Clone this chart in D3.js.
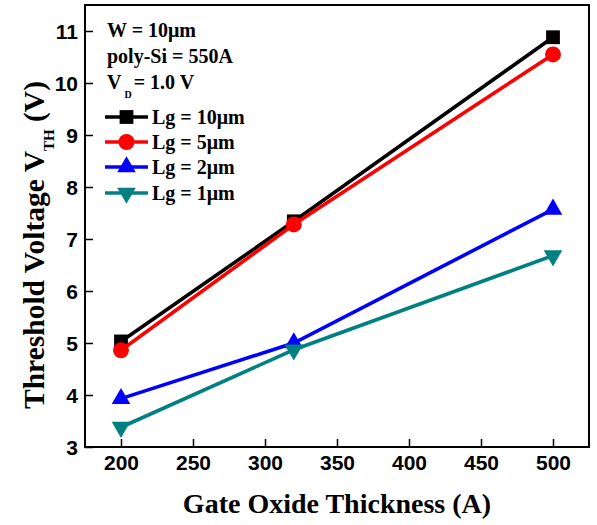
<!DOCTYPE html>
<html>
<head>
<meta charset="utf-8">
<script src="https://cdn.jsdelivr.net/npm/d3@7"></script>
<style>
  html, body { margin: 0; padding: 0; background: #fff; }
  svg { display: block; }
</style>
</head>
<body>
<svg id="chart" width="597" height="525"></svg>
<script>
// Gate oxide thickness (A) and threshold voltage (V) per gate length
const thickness = [200, 320, 500];
const vthLg10 = [5.03, 7.34, 10.88];
const vthLg5 = [4.86, 7.28, 10.55];
const vthLg2 = [3.93, 5.0, 7.57];
const vthLg1 = [3.38, 4.87, 6.68];

const seriesNames = ["Lg = 10\u03bcm", "Lg = 5\u03bcm", "Lg = 2\u03bcm", "Lg = 1\u03bcm"];
const seriesColors = ["#000000", "#ff0000", "#0000ff", "#008080"];
const seriesSymbols = [d3.symbolSquare, d3.symbolCircle, d3.symbolTriangle, d3.symbolTriangle];
const seriesValues = [vthLg10, vthLg5, vthLg2, vthLg1];

const xTicks = [200, 250, 300, 350, 400, 450, 500];
const yTicks = [3, 4, 5, 6, 7, 8, 9, 10, 11];

const svg = d3.select("#chart");
const m = { left: 85, right: 589, top: 5, bottom: 447 };

const x = d3.scaleLinear().domain([175, 525]).range([m.left, m.right]);
const y = d3.scaleLinear().domain([3, 11.5]).range([m.bottom, m.top]);

// axes with inward ticks
const xAxis = d3.axisBottom(x).tickValues(xTicks).tickSize(-8).tickPadding(8).tickFormat(d3.format("d"));
const yAxis = d3.axisLeft(y).tickValues(yTicks).tickSize(-8).tickPadding(7).tickFormat(d3.format("d"));

const gx = svg.append("g").attr("transform", `translate(0,${m.bottom})`).call(xAxis);
const gy = svg.append("g").attr("transform", `translate(${m.left},0)`).call(yAxis);
[gx, gy].forEach(g => {
  g.select(".domain").remove();
  g.selectAll(".tick line").attr("stroke", "#000").attr("stroke-width", 1.5);
  g.selectAll(".tick text")
    .attr("fill", "#000")
    .style("font-family", "'Liberation Sans', Arial, sans-serif")
    .style("font-weight", "bold")
    .style("font-size", "21px");
});
gx.selectAll(".tick text").attr("dy", "0.71em");
gy.selectAll(".tick text").attr("dy", "0.36em");

// frame
svg.append("rect")
  .attr("x", m.left).attr("y", m.top)
  .attr("width", m.right - m.left).attr("height", m.bottom - m.top)
  .attr("fill", "none").attr("stroke", "#000").attr("stroke-width", 2);

// series
const line = d3.line().x((d, i) => x(thickness[i])).y(d => y(d));
const symbolSizes = [190, 200, 150, 150];
function drawMarker(g, k, cx, cy) {
  const sym = d3.symbol().type(seriesSymbols[k]).size(symbolSizes[k]);
  g.append("path")
    .attr("d", sym())
    .attr("fill", seriesColors[k])
    .attr("transform", `translate(${cx},${cy})${k === 3 ? " rotate(180)" : ""}`);
}
seriesValues.forEach((vals, k) => {
  const g = svg.append("g");
  g.append("path")
    .datum(vals)
    .attr("d", line)
    .attr("fill", "none")
    .attr("stroke", seriesColors[k])
    .attr("stroke-width", 3.6);
  vals.forEach((v, i) => drawMarker(g, k, x(thickness[i]), y(v)));
});

// annotation text
const serif = "'Liberation Serif', 'Times New Roman', serif";
const ann = svg.append("g")
  .style("font-family", serif)
  .style("font-weight", "bold")
  .style("font-size", "20px");
ann.append("text").attr("x", 107).attr("y", 37).text("W = 10\u03bcm");
ann.append("text").attr("x", 107).attr("y", 63).text("poly-Si = 550A");
const vd = ann.append("text").attr("x", 107).attr("y", 89);
vd.append("tspan").text("V");
vd.append("tspan").attr("dx", 3).attr("dy", 9).style("font-size", "10px").text("D");
vd.append("tspan").attr("dx", 2).attr("dy", -9).text("= 1.0 V");

// legend
const legY = [124, 149, 174, 200];
seriesNames.forEach((name, k) => {
  const g = svg.append("g");
  const cy = legY[k] - 7;
  g.append("line")
    .attr("x1", 105).attr("x2", 148)
    .attr("y1", cy).attr("y2", cy)
    .attr("stroke", seriesColors[k]).attr("stroke-width", 3.6);
  drawMarker(g, k, 126.5, cy);
  g.append("text")
    .attr("x", 152).attr("y", legY[k])
    .style("font-family", serif)
    .style("font-weight", "bold")
    .style("font-size", "20px")
    .text(name);
});

// axis titles
svg.append("text")
  .attr("x", 337).attr("y", 513)
  .attr("text-anchor", "middle")
  .style("font-family", serif)
  .style("font-weight", "bold")
  .style("font-size", "28px")
  .text("Gate Oxide Thickness (A)");

const yt = svg.append("text")
  .attr("transform", "translate(44,245) rotate(-90)")
  .attr("text-anchor", "middle")
  .style("font-family", serif)
  .style("font-weight", "bold")
  .style("font-size", "29.5px");
yt.append("tspan").text("Threshold Voltage V");
yt.append("tspan").attr("dy", 10).style("font-size", "15px").text("TH");
yt.append("tspan").attr("dy", -10).text(" (V)");
</script>
</body>
</html>
